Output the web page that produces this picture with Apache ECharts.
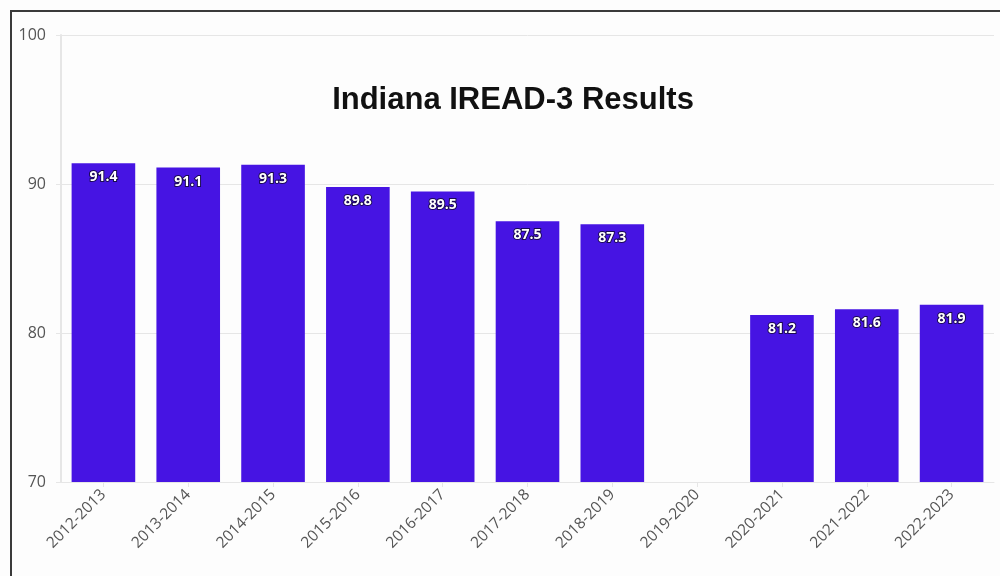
<!DOCTYPE html>
<html>
<head>
<meta charset="utf-8">
<script src="https://cdn.jsdelivr.net/npm/echarts@6/dist/echarts.min.js"></script>
<style>
html,body{margin:0;padding:0;background:#fdfdfd;}
#frame{position:absolute;left:10px;top:10px;width:990px;height:566px;border-top:2px solid #3a3a3a;border-left:2px solid #3a3a3a;box-sizing:border-box;}
#chart{position:absolute;left:0;top:0;width:1000px;height:576px;}
</style>
</head>
<body>
<div id="frame"></div>
<div id="chart"></div>
<script>
const categories = ['2012-2013','2013-2014','2014-2015','2015-2016','2016-2017','2017-2018','2018-2019','2019-2020','2020-2021','2021-2022','2022-2023'];
const values = [91.4, 91.1, 91.3, 89.8, 89.5, 87.5, 87.3, null, 81.2, 81.6, 81.9];
const title = 'Indiana IREAD-3 Results';

const chart = echarts.init(document.getElementById('chart'));
chart.setOption({
  backgroundColor: 'transparent',
  animation: false,
  title: {
    text: title,
    left: 508,
    textAlign: 'center',
    top: 80,
    textStyle: { fontFamily: 'Liberation Sans', fontWeight: 'bold', fontSize: 31, color: '#111' }
  },
  grid: { left: 61, right: 6, top: 35, bottom: 94, containLabel: false },
  xAxis: {
    type: 'category',
    data: categories,
    axisLine: { show: true, lineStyle: { color: '#e6e6e6', width: 1 } },
    axisTick: { show: true, alignWithLabel: true, length: 5, lineStyle: { color: '#e6e6e6' } },
    axisLabel: { rotate: 45, interval: 0, color: '#555', fontSize: 15.5, fontFamily: 'Open Sans', margin: 10 }
  },
  yAxis: {
    type: 'value',
    min: 70, max: 100, interval: 10,
    axisLine: { show: true, lineStyle: { color: '#e6e6e6', width: 2 } },
    axisTick: { show: true, length: 5, lineStyle: { color: '#e6e6e6' } },
    splitLine: { lineStyle: { color: '#e6e6e6', width: 1 } },
    axisLabel: { color: '#555', fontSize: 16, fontFamily: 'Open Sans', margin: 15 }
  },
  series: [{
    type: 'bar',
    data: values,
    barCategoryGap: '25%',
    itemStyle: { color: '#4614E3' },
    label: {
      show: true,
      position: 'insideTop',
      distance: 7,
      color: '#fff',
      fontWeight: 'bold',
      fontSize: 14,
      fontFamily: 'Open Sans',
      textBorderColor: '#1a0a50',
      textBorderWidth: 2
    }
  }]
});
</script>
</body>
</html>
